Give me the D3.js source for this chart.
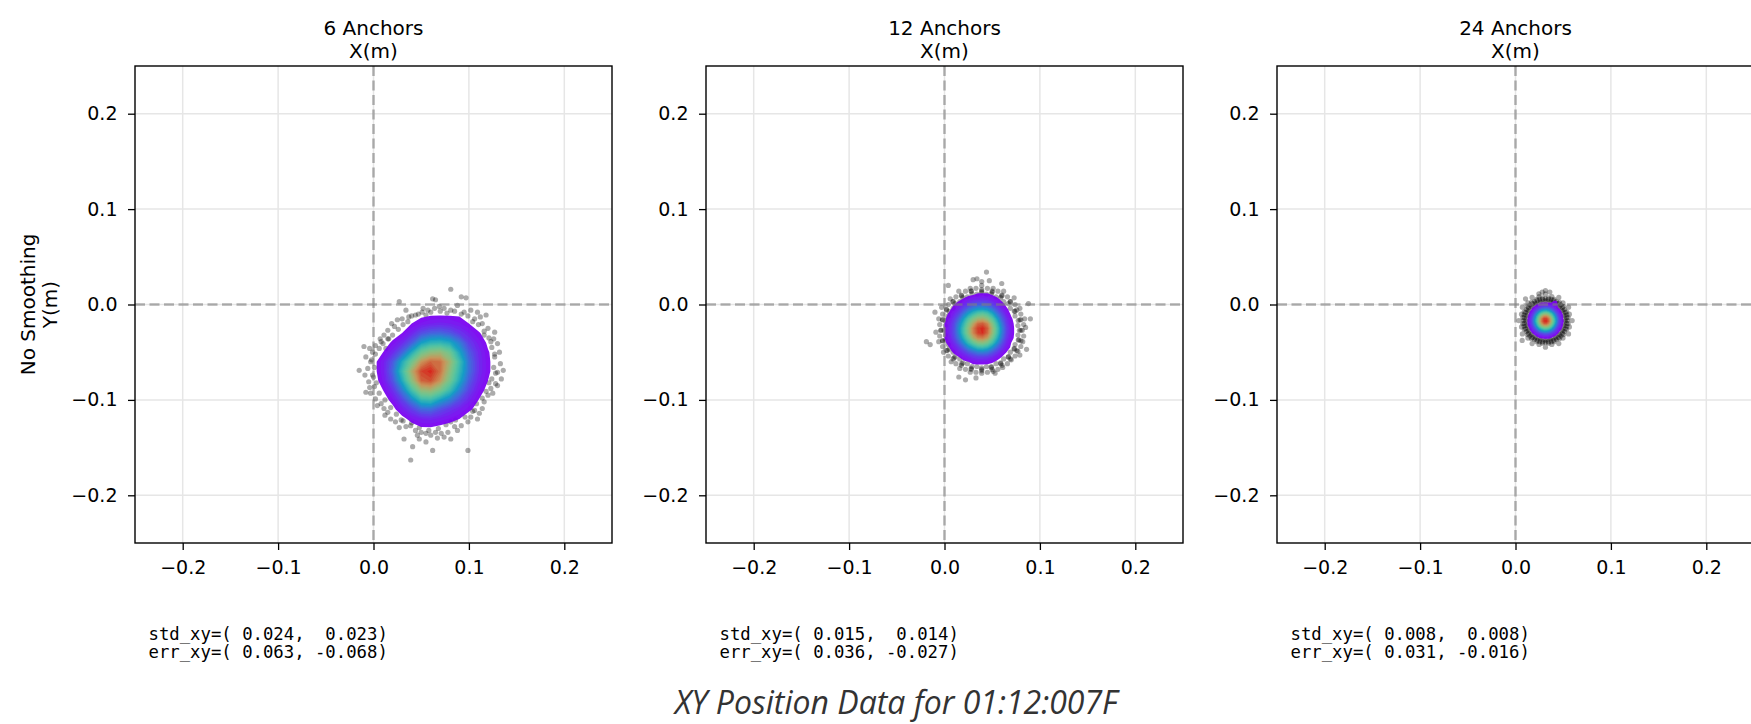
<!DOCTYPE html>
<html>
<head>
<meta charset="utf-8">
<script src="https://cdn.jsdelivr.net/npm/d3@7"></script>
<style>
  body { margin: 0; background: #fff; }
  text { font-family: 'DejaVu Sans', sans-serif; fill: #000; }
</style>
</head>
<body>
<svg id="chart"></svg>
<script>
const panelTitles = ['6 Anchors', '12 Anchors', '24 Anchors']
const axisLabelX = 'X(m)'
const axisLabelY = ['No Smoothing', 'Y(m)']
const suptitle = 'XY Position Data for 01:12:007F'
const axisTicks = [-0.2, -0.1, 0, 0.1, 0.2]
const stdXY = [[0.024, 0.023], [0.015, 0.014], [0.008, 0.008]]
const errXY = [[0.063, -0.068], [0.036, -0.027], [0.031, -0.016]]

// density grids: first column x, first row y, spacing (metres)
const gridX0 = [-0.01, -0.005, 0.01]
const gridY0 = [0.0, 0.015, 0.005]
const gridStep = [0.01, 0.005, 0.0025]

const density6 = [
  [0, 0, 0, 0, 0, 0.1, 0.1, 0.1, 0.1, 0.2, 0.1, 0.1, 0.1, 0, 0, 0],
  [0, 0, 0, 0, 0.1, 0.2, 0.3, 0.4, 0.4, 0.4, 0.4, 0.2, 0.1, 0.1, 0, 0],
  [0, 0, 0, 0.1, 0.2, 0.5, 0.8, 1.0, 1.1, 1.0, 0.8, 0.5, 0.3, 0.15, 0.1, 0],
  [0, 0, 0.1, 0.2, 0.5, 1.1, 1.9, 2.3, 2.4, 2.1, 1.5, 1.0, 0.55, 0.3, 0.1, 0],
  [0, 0.1, 0.2, 0.6, 1.2, 2.2, 3.6, 4.3, 4.4, 4.0, 2.9, 1.6, 0.9, 0.4, 0.2, 0.1],
  [0.1, 0.2, 0.5, 1.2, 2.3, 4.0, 5.9, 6.8, 7.0, 6.0, 3.9, 2.2, 1.2, 0.55, 0.2, 0.1],
  [0.1, 0.3, 0.9, 2.1, 4.0, 6.0, 8.1, 9.0, 8.8, 7.2, 4.8, 2.6, 1.3, 0.6, 0.2, 0.1],
  [0.1, 0.3, 0.9, 2.4, 4.7, 7.5, 9.5, 9.9, 8.8, 6.7, 4.5, 2.6, 1.3, 0.6, 0.2, 0.1],
  [0.1, 0.2, 0.8, 2.0, 4.0, 6.7, 9.0, 9.3, 8.1, 6.1, 4.0, 2.2, 1.1, 0.5, 0.2, 0.1],
  [0, 0.1, 0.5, 1.3, 2.8, 4.9, 6.9, 7.2, 6.2, 4.7, 3.0, 1.7, 0.8, 0.3, 0.1, 0],
  [0, 0.1, 0.2, 0.7, 1.7, 3.0, 4.5, 4.7, 3.7, 2.9, 1.9, 1.1, 0.5, 0.2, 0.1, 0],
  [0, 0, 0.1, 0.3, 0.9, 1.6, 2.4, 2.5, 1.9, 1.4, 1.0, 0.6, 0.3, 0.1, 0, 0],
  [0, 0, 0, 0.2, 0.3, 0.7, 1.0, 1.1, 0.9, 0.7, 0.5, 0.2, 0.1, 0, 0, 0],
  [0, 0, 0, 0, 0.1, 0.2, 0.4, 0.4, 0.3, 0.2, 0.1, 0, 0, 0, 0, 0],
  [0, 0, 0, 0, 0, 0, 0.1, 0.1, 0, 0, 0, 0, 0, 0, 0, 0],
]

const density12 = [
  [0, 0, 0, 0.1, 0.1, 0.1, 0.2, 0.2, 0.3, 0.3, 0.3, 0.2, 0.1, 0.1, 0, 0, 0, 0, 0],
  [0, 0, 0.1, 0.1, 0.2, 0.3, 0.4, 0.5, 0.6, 0.6, 0.6, 0.5, 0.3, 0.2, 0.1, 0, 0, 0, 0],
  [0, 0.1, 0.1, 0.3, 0.4, 0.6, 0.9, 1.1, 1.2, 1.3, 1.2, 0.9, 0.7, 0.4, 0.2, 0.1, 0, 0, 0],
  [0.1, 0.1, 0.2, 0.5, 0.8, 1.2, 1.6, 2.0, 2.2, 2.3, 2.1, 1.7, 1.2, 0.7, 0.4, 0.2, 0.1, 0, 0],
  [0.1, 0.2, 0.4, 0.7, 1.2, 1.9, 2.6, 3.2, 3.6, 3.7, 3.4, 2.8, 1.9, 1.2, 0.6, 0.3, 0.1, 0, 0],
  [0.1, 0.3, 0.6, 1.1, 1.8, 2.8, 3.8, 4.7, 5.5, 5.7, 5.2, 4.1, 2.8, 1.8, 0.9, 0.4, 0.2, 0.1, 0],
  [0.2, 0.4, 0.8, 1.5, 2.4, 3.7, 5.2, 6.4, 7.2, 7.4, 6.8, 5.5, 3.8, 2.3, 1.3, 0.6, 0.2, 0.1, 0],
  [0.2, 0.5, 1.0, 1.8, 3.0, 4.4, 6.2, 7.6, 8.9, 9.1, 8.4, 6.6, 4.6, 2.8, 1.5, 0.7, 0.3, 0.1, 0],
  [0.2, 0.5, 1.1, 1.9, 3.3, 4.9, 6.8, 8.5, 9.6, 9.9, 9.1, 7.2, 5.1, 3.1, 1.7, 0.8, 0.3, 0.1, 0],
  [0.2, 0.5, 1.1, 1.9, 3.2, 4.9, 6.8, 8.4, 9.5, 9.8, 8.9, 7.1, 5.0, 3.0, 1.6, 0.8, 0.3, 0.1, 0],
  [0.2, 0.5, 0.9, 1.7, 2.8, 4.2, 5.8, 7.4, 8.4, 8.6, 7.9, 6.2, 4.3, 2.7, 1.4, 0.7, 0.3, 0.1, 0],
  [0.2, 0.4, 0.7, 1.3, 2.2, 3.3, 4.6, 5.7, 6.6, 6.8, 6.2, 4.9, 3.4, 2.1, 1.1, 0.5, 0.2, 0.1, 0],
  [0.1, 0.2, 0.5, 0.9, 1.5, 2.3, 3.2, 3.9, 4.6, 4.7, 4.3, 3.4, 2.4, 1.5, 0.8, 0.4, 0.1, 0, 0],
  [0.1, 0.2, 0.3, 0.6, 1.0, 1.4, 2.0, 2.4, 2.8, 2.9, 2.7, 2.1, 1.5, 0.9, 0.5, 0.2, 0.1, 0, 0],
  [0, 0.1, 0.2, 0.3, 0.5, 0.8, 1.1, 1.4, 1.6, 1.6, 1.5, 1.2, 0.8, 0.5, 0.3, 0.1, 0, 0, 0],
  [0, 0, 0.1, 0.2, 0.3, 0.4, 0.5, 0.7, 0.8, 0.8, 0.7, 0.6, 0.4, 0.2, 0.1, 0.1, 0, 0, 0],
  [0, 0, 0, 0.1, 0.1, 0.2, 0.2, 0.3, 0.3, 0.3, 0.3, 0.2, 0.2, 0.1, 0.1, 0, 0, 0, 0],
  [0, 0, 0, 0, 0, 0.1, 0.1, 0.1, 0.1, 0.1, 0.1, 0.1, 0.1, 0, 0, 0, 0, 0, 0],
]

const density24 = [
  [0, 0, 0, 0, 0.1, 0.1, 0.1, 0.2, 0.2, 0.2, 0.2, 0.1, 0.3, 0.4, 0, 0, 0, 0],
  [0, 0, 0, 0.1, 0.2, 0.2, 0.3, 0.4, 0.4, 0.4, 0.4, 0.4, 0.7, 0.7, 0.3, 0.1, 0, 0],
  [0, 0, 0.1, 0.2, 0.3, 0.5, 0.7, 0.9, 0.9, 0.9, 0.9, 0.8, 1.0, 0.8, 0.4, 0.1, 0.1, 0],
  [0, 0.1, 0.2, 0.4, 0.6, 0.9, 1.3, 1.6, 1.8, 1.8, 1.7, 1.3, 1.1, 0.7, 0.4, 0.2, 0.1, 0],
  [0.1, 0.2, 0.3, 0.6, 1.1, 1.6, 2.2, 2.8, 3.1, 3.1, 2.8, 2.3, 1.7, 1.1, 0.7, 0.4, 0.2, 0.1],
  [0.1, 0.2, 0.5, 1.0, 1.7, 2.5, 3.5, 4.3, 4.7, 4.9, 4.3, 3.6, 2.6, 1.8, 1.1, 0.6, 0.3, 0.1],
  [0.1, 0.3, 0.7, 1.4, 2.3, 3.5, 4.9, 6.0, 6.8, 6.8, 6.2, 5.0, 3.7, 2.4, 1.5, 0.8, 0.4, 0.2],
  [0.2, 0.4, 0.9, 1.7, 2.9, 4.4, 6.2, 7.6, 8.5, 8.5, 7.7, 6.3, 4.6, 3.1, 1.8, 1.0, 0.5, 0.2],
  [0.2, 0.5, 1.0, 2.0, 3.3, 5.0, 7.0, 8.6, 9.6, 9.6, 8.7, 7.1, 5.3, 3.5, 2.1, 1.1, 0.5, 0.2],
  [0.2, 0.5, 1.1, 2.0, 3.4, 5.2, 7.1, 8.8, 9.8, 9.9, 9.0, 7.3, 5.4, 3.6, 2.1, 1.2, 0.6, 0.2],
  [0.2, 0.5, 1.0, 1.9, 3.1, 4.7, 6.6, 8.1, 9.1, 9.1, 8.3, 6.8, 5.0, 3.3, 2.0, 1.1, 0.5, 0.2],
  [0.2, 0.4, 0.8, 1.5, 2.6, 3.9, 5.5, 6.8, 7.5, 7.6, 6.9, 5.6, 4.1, 2.7, 1.6, 0.9, 0.4, 0.2],
  [0.1, 0.3, 0.6, 1.2, 1.9, 2.9, 4.1, 5.0, 5.7, 5.7, 5.2, 4.2, 3.1, 2.0, 1.2, 0.7, 0.3, 0.1],
  [0.1, 0.2, 0.4, 0.8, 1.3, 2.0, 2.8, 3.4, 3.8, 3.8, 3.5, 2.8, 2.1, 1.4, 0.8, 0.4, 0.2, 0.1],
  [0.1, 0.1, 0.3, 0.5, 0.8, 1.2, 1.7, 2.0, 2.3, 2.3, 2.1, 1.7, 1.3, 0.9, 0.5, 0.3, 0.1, 0.1],
  [0, 0.1, 0.1, 0.3, 0.4, 0.7, 0.9, 1.1, 1.3, 1.3, 1.2, 0.9, 0.7, 0.5, 0.3, 0.1, 0.1, 0],
  [0, 0, 0.1, 0.1, 0.2, 0.3, 0.5, 0.6, 0.6, 0.6, 0.6, 0.5, 0.3, 0.2, 0.1, 0.1, 0, 0],
  [0, 0, 0, 0.1, 0.1, 0.1, 0.2, 0.2, 0.3, 0.3, 0.3, 0.2, 0.2, 0.1, 0.1, 0, 0, 0],
  [0, 0, 0, 0, 0, 0, 0.1, 0.1, 0.1, 0.1, 0.1, 0.1, 0.1, 0, 0, 0, 0, 0],
]

// visible samples around each cloud (x, y in metres)
const points6 = [
  [0.081, 0.016], [0.092, 0.008], [0.097, 0.007], [0.062, 0.006], [0.065, 0.005], [0.027, 0.003],
  [0.037, -0.013], [0.044, -0.011], [0.051, -0.008], [0.057, -0.006], [0.064, -0.004], [0.069, -0.002],
  [0.074, -0.004], [0.081, -0.006], [0.088, -0.001], [0.095, -0.008], [0.102, -0.006], [0.109, -0.008],
  [0.118, -0.011], [0.106, -0.015], [0.030, -0.015], [0.025, -0.016], [0.022, -0.023], [0.015, -0.027],
  [0.011, -0.032], [0.016, -0.036], [0.114, -0.020], [0.120, -0.025], [0.116, -0.032], [0.127, -0.029],
  [0.123, -0.039], [0.130, -0.041], [0.132, -0.050], [0.127, -0.055], [0.133, -0.062], [0.130, -0.071],
  [0.134, -0.078], [0.128, -0.083], [0.123, -0.088], [0.130, -0.085], [0.120, -0.095], [0.116, -0.102],
  [0.114, -0.109], [0.111, -0.114], [0.106, -0.111], [0.102, -0.118], [0.099, -0.123], [0.092, -0.127],
  [0.088, -0.132], [0.081, -0.123], [0.078, -0.134], [0.071, -0.135], [0.065, -0.134], [0.060, -0.137],
  [0.055, -0.135], [0.050, -0.134], [0.044, -0.132], [0.039, -0.127], [0.034, -0.128], [0.029, -0.121],
  [0.023, -0.123], [0.018, -0.120], [0.015, -0.113], [0.011, -0.109], [0.008, -0.104], [0.002, -0.099],
  [-0.003, -0.093], [-0.008, -0.092], [0.001, -0.086], [-0.005, -0.081], [-0.001, -0.074], [-0.015, -0.069],
  [-0.006, -0.067], [-0.003, -0.060], [-0.008, -0.055], [-0.001, -0.050], [-0.010, -0.044], [0.002, -0.043],
  [0.008, -0.039], [0.013, -0.046], [0.041, -0.149], [0.039, -0.163], [0.062, -0.153], [0.099, -0.153],
  [0.055, -0.144], [0.032, -0.141], [0.048, -0.141], [0.081, -0.141], [0.074, -0.139],
  [0.040, -0.012], [0.047, -0.010], [0.055, -0.011], [0.060, -0.008], [0.070, -0.007], [0.077, -0.009],
  [0.085, -0.007], [0.092, -0.010], [0.099, -0.012], [0.104, -0.018], [0.110, -0.021], [0.116, -0.028],
  [0.121, -0.035], [0.124, -0.045], [0.127, -0.052], [0.126, -0.066], [0.128, -0.072], [0.124, -0.078],
  [0.121, -0.082], [0.118, -0.091], [0.114, -0.098], [0.108, -0.104], [0.104, -0.112], [0.096, -0.118],
  [0.086, -0.121], [0.076, -0.126], [0.068, -0.130], [0.058, -0.132], [0.048, -0.129], [0.040, -0.124],
  [0.031, -0.122], [0.024, -0.115], [0.018, -0.108], [0.012, -0.100], [0.006, -0.093], [0.003, -0.082],
  [0.000, -0.076], [0.001, -0.066], [-0.002, -0.058], [0.002, -0.052], [0.006, -0.046], [0.010, -0.041],
  [0.015, -0.036], [0.020, -0.032], [0.026, -0.026], [0.031, -0.021], [0.036, -0.018],
  [0.052, -0.004], [0.034, -0.006], [0.019, -0.020], [0.007, -0.036], [0.112, -0.013], [0.126, -0.036],
  [0.136, -0.069], [0.125, -0.093], [0.109, -0.120], [0.085, -0.128], [0.067, -0.140], [0.046, -0.137],
  [0.027, -0.129], [0.012, -0.116], [0.004, -0.106], [-0.004, -0.087], [-0.009, -0.074], [-0.004, -0.046],
]

const points12 = [
  [0.080, -0.027], [0.085, -0.024], [0.079, -0.016], [0.084, -0.015], [0.074, -0.007], [0.079, -0.004],
  [0.069, 0.003], [0.073, 0.007], [0.060, 0.009], [0.062, 0.014], [0.050, 0.013], [0.051, 0.017],
  [0.039, 0.014], [0.039, 0.020], [0.028, 0.014], [0.027, 0.017], [0.018, 0.009], [0.015, 0.014],
  [0.009, 0.003], [0.006, 0.006], [0.002, -0.005], [-0.003, -0.003], [-0.002, -0.016], [-0.006, -0.015],
  [-0.004, -0.027], [-0.009, -0.029], [-0.002, -0.038], [-0.006, -0.039], [0.003, -0.048], [-0.001, -0.050],
  [0.010, -0.056], [0.007, -0.060], [0.018, -0.062], [0.016, -0.067], [0.028, -0.067], [0.027, -0.071],
  [0.039, -0.068], [0.039, -0.072], [0.049, -0.066], [0.051, -0.070], [0.059, -0.062], [0.061, -0.066],
  [0.067, -0.055], [0.070, -0.058], [0.073, -0.046], [0.077, -0.049], [0.078, -0.037], [0.082, -0.039],
  [0.077, -0.022], [0.074, -0.012], [0.069, -0.004], [0.062, 0.003], [0.054, 0.008], [0.044, 0.011],
  [0.034, 0.011], [0.024, 0.008], [0.016, 0.003], [0.009, -0.004], [0.004, -0.012], [0.001, -0.022],
  [0.001, -0.032], [0.004, -0.042], [0.009, -0.050], [0.016, -0.057], [0.024, -0.062], [0.034, -0.065],
  [0.044, -0.065], [0.054, -0.062], [0.062, -0.057], [0.069, -0.050], [0.074, -0.042], [0.077, -0.032],
  [0.083, -0.021], [0.080, -0.010], [0.074, 0.000], [0.066, 0.008], [0.056, 0.014], [0.045, 0.017],
  [0.033, 0.017], [0.022, 0.014], [0.012, 0.008], [0.004, 0.000], [-0.002, -0.010], [-0.005, -0.021],
  [-0.005, -0.033], [-0.002, -0.044], [0.004, -0.054], [0.012, -0.062], [0.022, -0.068], [0.033, -0.071],
  [0.045, -0.071], [0.056, -0.068], [0.066, -0.062], [0.074, -0.054], [0.080, -0.044], [0.083, -0.033],
  [0.0785, -0.027], [0.0772, -0.0168], [0.0732, -0.0072], [0.0669, 0.0009], [0.0588, 0.0072], [0.0492, 0.0112],
  [0.039, 0.0125], [0.0288, 0.0112], [0.0192, 0.0072], [0.0111, 0.0009], [0.0048, -0.0072], [0.0008, -0.0168],
  [-0.0005, -0.027], [0.0008, -0.0372], [0.0048, -0.0468], [0.0111, -0.0549], [0.0192, -0.0612], [0.0288, -0.0652],
  [0.039, -0.0665], [0.0492, -0.0652], [0.0588, -0.0612], [0.0669, -0.0549], [0.0732, -0.0468], [0.0772, -0.0372],
  [0.0815, -0.027], [0.0801, -0.016], [0.0758, -0.0057], [0.069, 0.003], [0.0603, 0.0098], [0.050, 0.0141],
  [0.039, 0.0155], [0.028, 0.0141], [0.0177, 0.0098], [0.009, 0.003], [0.0022, -0.0057], [-0.0021, -0.016],
  [-0.0035, -0.027], [-0.0021, -0.038], [0.0022, -0.0483], [0.009, -0.057], [0.0177, -0.0638], [0.028, -0.0681],
  [0.039, -0.0695], [0.050, -0.0681], [0.0603, -0.0638], [0.069, -0.057], [0.0758, -0.0483], [0.0801, -0.038],
  [0.044, 0.034], [0.030, 0.026], [0.034, 0.027], [0.039, 0.024], [0.004, 0.020], [0.060, 0.022],
  [-0.019, -0.039], [-0.015, -0.042], [0.088, 0.001], [0.090, -0.015], [0.079, -0.053], [0.015, -0.076],
  [0.022, -0.079], [0.053, -0.072], [0.047, 0.025], [-0.010, -0.008], [0.086, -0.047], [0.033, -0.077],
]

const points24 = [
  [0.0524, -0.0168], [0.0517, -0.0114], [0.0496, -0.0063], [0.0462, -0.0020], [0.0419, 0.0014], [0.0368, 0.0035],
  [0.0314, 0.0042], [0.0260, 0.0035], [0.0209, 0.0014], [0.0166, -0.0020], [0.0132, -0.0063], [0.0111, -0.0114],
  [0.0104, -0.0168], [0.0111, -0.0222], [0.0132, -0.0273], [0.0166, -0.0316], [0.0209, -0.0350], [0.0260, -0.0371],
  [0.0314, -0.0378], [0.0368, -0.0371], [0.0419, -0.0350], [0.0462, -0.0316], [0.0496, -0.0273], [0.0517, -0.0222],
  [0.0552, -0.0137], [0.0536, -0.0076], [0.0504, -0.0022], [0.0460, 0.0022], [0.0406, 0.0054], [0.0345, 0.0070],
  [0.0283, 0.0070], [0.0222, 0.0054], [0.0168, 0.0022], [0.0124, -0.0022], [0.0092, -0.0076], [0.0076, -0.0137],
  [0.0076, -0.0199], [0.0092, -0.0260], [0.0124, -0.0314], [0.0168, -0.0358], [0.0222, -0.0390], [0.0283, -0.0406],
  [0.0345, -0.0406], [0.0406, -0.0390], [0.0460, -0.0358], [0.0504, -0.0314], [0.0536, -0.0260], [0.0552, -0.0199],
  [0.0565, -0.0101], [0.0498, 0.0016], [0.0381, 0.0083], [0.0247, 0.0083], [0.0130, 0.0016], [0.0063, -0.0101],
  [0.0063, -0.0235], [0.0130, -0.0352], [0.0247, -0.0419], [0.0381, -0.0419], [0.0498, -0.0352], [0.0565, -0.0235],
  [0.0594, -0.0168], [0.0556, -0.0028], [0.0454, 0.0074], [0.0314, 0.0112], [0.0174, 0.0074], [0.0072, -0.0028],
  [0.0034, -0.0168], [0.0072, -0.0308], [0.0174, -0.0410], [0.0314, -0.0448], [0.0454, -0.0410], [0.0556, -0.0308],
  [0.0537, -0.0139], [0.0522, -0.0082], [0.0492, -0.0031], [0.0451, 0.0010], [0.0400, 0.0040], [0.0343, 0.0055],
  [0.0285, 0.0055], [0.0228, 0.0040], [0.0177, 0.0010], [0.0136, -0.0031], [0.0106, -0.0082], [0.0091, -0.0139],
  [0.0091, -0.0197], [0.0106, -0.0254], [0.0136, -0.0305], [0.0177, -0.0346], [0.0228, -0.0376], [0.0285, -0.0391],
  [0.0343, -0.0391], [0.0400, -0.0376], [0.0451, -0.0346], [0.0492, -0.0305], [0.0522, -0.0254], [0.0537, -0.0197],
  [0.0512, -0.0168], [0.0505, -0.0117], [0.0485, -0.0069], [0.0454, -0.0028], [0.0413, 0.0003], [0.0365, 0.0023],
  [0.0314, 0.0030], [0.0263, 0.0023], [0.0215, 0.0003], [0.0174, -0.0028], [0.0143, -0.0069], [0.0123, -0.0117],
  [0.0116, -0.0168], [0.0123, -0.0219], [0.0143, -0.0267], [0.0174, -0.0308], [0.0215, -0.0339], [0.0263, -0.0359],
  [0.0314, -0.0366], [0.0365, -0.0359], [0.0413, -0.0339], [0.0454, -0.0308], [0.0485, -0.0267], [0.0505, -0.0219],
  [0.0544, -0.0168], [0.0536, -0.0108], [0.0513, -0.0053], [0.0477, -0.0005], [0.0429, 0.0031], [0.0374, 0.0054],
  [0.0314, 0.0062], [0.0254, 0.0054], [0.0199, 0.0031], [0.0151, -0.0005], [0.0115, -0.0053], [0.0092, -0.0108],
  [0.0084, -0.0168], [0.0092, -0.0228], [0.0115, -0.0283], [0.0151, -0.0331], [0.0199, -0.0367], [0.0254, -0.0390],
  [0.0314, -0.0398], [0.0374, -0.0390], [0.0429, -0.0367], [0.0477, -0.0331], [0.0513, -0.0283], [0.0536, -0.0228],
  [0.0280, 0.0129], [0.0314, 0.0147], [0.0245, 0.0112], [0.0105, 0.0059], [0.0070, -0.0377], [0.0360, 0.0130],
]

const densities = [density6, density12, density24]
const samples = [points6, points12, points24]

// ---- layout ----
const width = 1751, height = 724
const plotSize = 477, plotTop = 66, plotLeft = 135, panelGap = 571

const svg = d3.select('#chart').attr('width', width).attr('height', height)
svg.append('rect').attr('width', width).attr('height', height).attr('fill', '#fff')

// matplotlib "rainbow" colormap, toned down like the dense cloud under it
function rainbow(t) {
  const r = Math.min(1, Math.abs(2 * t - 0.5))
  const g = Math.sin(Math.PI * t)
  const b = Math.cos((Math.PI * t) / 2)
  const c = d3.rgb(r * 255, g * 255, b * 255)
  return d3.interpolateRgb(c, '#222')(0.06 + 0.16 * Math.sin(Math.PI * t) + 0.12 * t)
}

const levels = d3.range(0.5, 10, 0.25)
const fmt = d3.format('.1f')
const fmt6 = (v) => v.toFixed(3).padStart(6, ' ')

panelTitles.forEach((title, i) => {
  const left = plotLeft + i * panelGap
  const g = svg.append('g').attr('transform', `translate(${left},${plotTop})`)

  const x = d3.scaleLinear().domain([-0.25, 0.25]).range([0, plotSize])
  const y = d3.scaleLinear().domain([-0.25, 0.25]).range([plotSize, 0])

  g.append('clipPath').attr('id', 'clip' + i)
    .append('rect').attr('width', plotSize).attr('height', plotSize)

  const inner = g.append('g').attr('clip-path', `url(#clip${i})`)

  // grid
  inner.selectAll('.gx').data(axisTicks).enter().append('line')
    .attr('x1', (d) => x(d)).attr('x2', (d) => x(d))
    .attr('y1', 0).attr('y2', plotSize)
    .attr('stroke', '#e6e6e6').attr('stroke-width', 1.5)
  inner.selectAll('.gy').data(axisTicks).enter().append('line')
    .attr('y1', (d) => y(d)).attr('y2', (d) => y(d))
    .attr('x1', 0).attr('x2', plotSize)
    .attr('stroke', '#e6e6e6').attr('stroke-width', 1.5)

  // scatter samples
  inner.append('g').selectAll('circle').data(samples[i]).enter().append('circle')
    .attr('cx', (d) => x(d[0])).attr('cy', (d) => y(d[1]))
    .attr('r', 2.6).attr('fill', '#000').attr('fill-opacity', 0.33)

  // density contours
  const grid = densities[i]
  const rows = grid.length, cols = grid[0].length
  const x0 = gridX0[i], y0 = gridY0[i], step = gridStep[i]
  const contours = d3.contours().size([cols, rows]).thresholds(levels)(grid.flat())
  const proj = d3.geoTransform({
    point(u, v) {
      this.stream.point(x(x0 + (u - 0.5) * step), y(y0 - (v - 0.5) * step))
    },
  })
  const path = d3.geoPath(proj)
  inner.append('g').attr('opacity', 0.94)
    .selectAll('path').data(contours).enter().append('path')
    .attr('d', path)
    .attr('fill', (d) => rainbow(Math.pow((d.value - 0.5) / 9.5, 1.2)))

  // zero lines
  inner.append('line')
    .attr('x1', x(0)).attr('x2', x(0)).attr('y1', 0).attr('y2', plotSize)
    .attr('stroke', '#7f7f7f').attr('stroke-opacity', 0.6)
    .attr('stroke-width', 2.5).attr('stroke-dasharray', '10,4.5')
  inner.append('line')
    .attr('y1', y(0)).attr('y2', y(0)).attr('x1', 0).attr('x2', plotSize)
    .attr('stroke', '#7f7f7f').attr('stroke-opacity', 0.6)
    .attr('stroke-width', 2.5).attr('stroke-dasharray', '10,4.5')

  // axes
  const xAxis = d3.axisBottom(x).tickValues(axisTicks).tickFormat(fmt).tickSize(7).tickPadding(11)
  const yAxis = d3.axisLeft(y).tickValues(axisTicks).tickFormat(fmt).tickSize(7).tickPadding(10.5)

  const gx = g.append('g').attr('transform', `translate(0,${plotSize})`).call(xAxis)
  const gy = g.append('g').call(yAxis)
  ;[gx, gy].forEach((ax) => {
    ax.select('.domain').remove()
    ax.selectAll('line').attr('stroke', '#000').attr('stroke-width', 1.3)
    ax.selectAll('text').attr('font-size', 19).attr('font-family', 'DejaVu Sans').attr('fill', '#000')
  })

  g.append('rect')
    .attr('width', plotSize).attr('height', plotSize)
    .attr('fill', 'none').attr('stroke', '#000').attr('stroke-width', 1.4)

  // titles
  g.append('text').attr('x', plotSize / 2).attr('y', 35 - plotTop)
    .attr('text-anchor', 'middle').attr('font-size', 20).text(title)
  g.append('text').attr('x', plotSize / 2).attr('y', 57.5 - plotTop)
    .attr('text-anchor', 'middle').attr('font-size', 20).text(axisLabelX)

  // stats
  const stats = g.append('g')
  stats.append('text').attr('x', 13.5).attr('y', 639.5 - plotTop)
    .style('white-space', 'pre').style('font-family', 'DejaVu Sans Mono').style('font-size', '17.3px')
    .text(`std_xy=(${fmt6(stdXY[i][0])}, ${fmt6(stdXY[i][1])})`)
  stats.append('text').attr('x', 13.5).attr('y', 658 - plotTop)
    .style('white-space', 'pre').style('font-family', 'DejaVu Sans Mono').style('font-size', '17.3px')
    .text(`err_xy=(${fmt6(errXY[i][0])}, ${fmt6(errXY[i][1])})`)
})

// y label on first panel
axisLabelY.forEach((line, k) => {
  svg.append('text')
    .attr('transform', `translate(${k === 0 ? 35 : 57},${plotTop + plotSize / 2}) rotate(-90)`)
    .attr('text-anchor', 'middle').attr('font-size', 20).text(line)
})

svg.append('text')
  .attr('x', 896).attr('y', 714)
  .attr('text-anchor', 'middle')
  .style('font-family', "'Open Sans', sans-serif")
  .style('font-style', 'italic')
  .style('font-size', '32px')
  .style('fill', '#333')
  .text(suptitle)
</script>
</body>
</html>
